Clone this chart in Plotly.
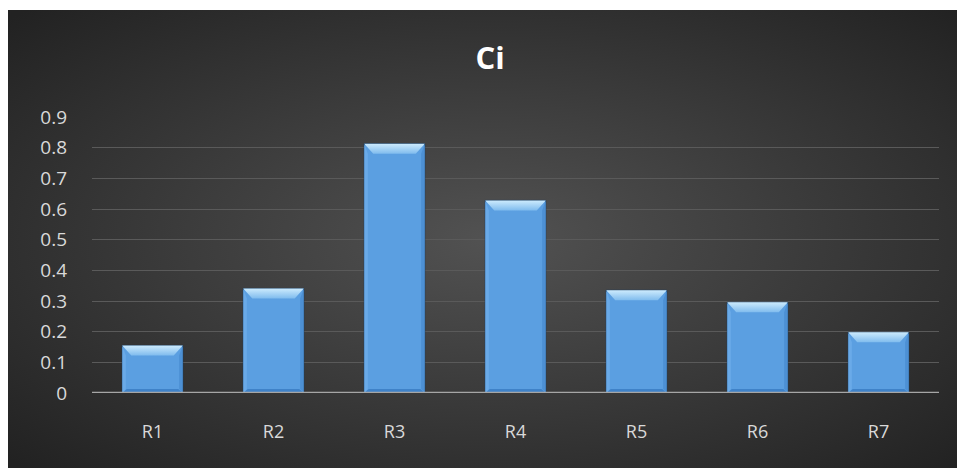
import base64
import plotly.graph_objects as go

# ---- data ----
categories = ["R1", "R2", "R3", "R4", "R5", "R6", "R7"]
values = [0.155, 0.341, 0.813, 0.628, 0.335, 0.296, 0.198]
y_ticks = [0, 0.1, 0.2, 0.3, 0.4, 0.5, 0.6, 0.7, 0.8, 0.9]
y_tick_labels = ["0", "0.1", "0.2", "0.3", "0.4", "0.5", "0.6", "0.7", "0.8", "0.9"]
title_text = "Ci"

# ---- layout constants (pixels) ----
W, H = 957, 468
ML, MR, MT, MB = 92, 18, 117, 75
PW, PH = W - ML - MR, H - MT - MB
BG_L, BG_T = 8, 10  # dark chart area starts here

FONT = "Open Sans"
BAR_W = 0.5
BEVEL_H = 10 / PH * 0.9   # ~10 px in data units
BEVEL_X = 9 / PW * 7      # ~9 px in category units
BOT_H = 4 / PH * 0.9

xs = list(range(len(categories)))

fig = go.Figure()

# main bar trace
fig.add_trace(go.Bar(
    x=xs, y=values, width=BAR_W,
    marker=dict(color="#5b9fe1", line=dict(color="#1f3f60", width=1)),
    hoverinfo="skip", showlegend=False,
))

# bevel decorations derived from data
for xi, v in zip(xs, values):
    l, r = xi - BAR_W / 2, xi + BAR_W / 2
    # top bevel
    fig.add_trace(go.Scatter(
        x=[l, r, r - BEVEL_X, l + BEVEL_X, l],
        y=[v, v, v - BEVEL_H, v - BEVEL_H, v],
        mode="lines", line=dict(width=0), fill="toself",
        fillgradient=dict(type="vertical",
                          colorscale=[[0, "#80bcee"], [1, "#cdebfd"]]),
        hoverinfo="skip", showlegend=False,
    ))
    # bottom bevel
    fig.add_trace(go.Scatter(
        x=[l, r, r - BEVEL_X / 2, l + BEVEL_X / 2, l],
        y=[0, 0, BOT_H, BOT_H, 0],
        mode="lines", line=dict(width=0), fill="toself",
        fillcolor="#3f82c8",
        hoverinfo="skip", showlegend=False,
    ))
    # side bevels
    fig.add_trace(go.Scatter(
        x=[l, l + BEVEL_X / 2.5, l + BEVEL_X / 2.5, l, l],
        y=[v, v - BEVEL_H, BOT_H, 0, v],
        mode="lines", line=dict(width=0), fill="toself",
        fillcolor="#6aaae8",
        hoverinfo="skip", showlegend=False,
    ))
    fig.add_trace(go.Scatter(
        x=[r, r - BEVEL_X / 2.5, r - BEVEL_X / 2.5, r, r],
        y=[v, v - BEVEL_H, BOT_H, 0, v],
        mode="lines", line=dict(width=0), fill="toself",
        fillcolor="#4d90d4",
        hoverinfo="skip", showlegend=False,
    ))

# background gradient image
svg = (
    '<svg xmlns="http://www.w3.org/2000/svg" width="949" height="458" '
    'viewBox="0 0 949 458" preserveAspectRatio="none">'
    '<defs><radialGradient id="g" cx="51%" cy="50%" r="70%">'
    '<stop offset="0" stop-color="#525252"/>'
    '<stop offset="1" stop-color="#222222"/>'
    '</radialGradient></defs>'
    '<rect width="949" height="458" fill="url(#g)"/></svg>'
)
src = "data:image/svg+xml;base64," + base64.b64encode(svg.encode()).decode()

fig.add_layout_image(dict(
    source=src, xref="paper", yref="paper",
    x=(BG_L - ML) / PW, y=(H - MB - BG_T) / PH,
    sizex=(W - BG_L) / PW, sizey=(H - BG_T) / PH,
    xanchor="left", yanchor="top", sizing="stretch", layer="below",
))

fig.update_layout(
    width=W, height=H,
    margin=dict(l=ML, r=MR, t=MT, b=MB),
    paper_bgcolor="white",
    plot_bgcolor="rgba(0,0,0,0)",
    title=dict(text="<b>" + title_text + "</b>", xref="container", yref="container",
               x=490 / W, y=1 - 58 / H, xanchor="center", yanchor="middle",
               font=dict(family=FONT, size=31, color="#ffffff")),
    font=dict(family=FONT, color="#d9d9d9"),
    xaxis=dict(range=[-0.5, len(categories) - 0.5], tickvals=xs, ticktext=categories,
               showgrid=False, zeroline=False, showline=False, ticks="",
               tickfont=dict(size=18, color="#d9d9d9"), ticklabelstandoff=26,
               fixedrange=True),
    yaxis=dict(range=[0, 0.9], tickvals=y_ticks, ticktext=y_tick_labels,
               showgrid=True, gridcolor="#5a5a5a", gridwidth=1,
               zeroline=False, showline=False, ticks="",
               tickfont=dict(size=19, color="#d9d9d9"), ticklabelstandoff=24,
               fixedrange=True),
    shapes=[dict(type="line", xref="paper", yref="y", x0=0, x1=1, y0=0, y1=0,
                 line=dict(color="#a6a6a6", width=2.5), layer="above")],
)

fig.write_html("out.html")
